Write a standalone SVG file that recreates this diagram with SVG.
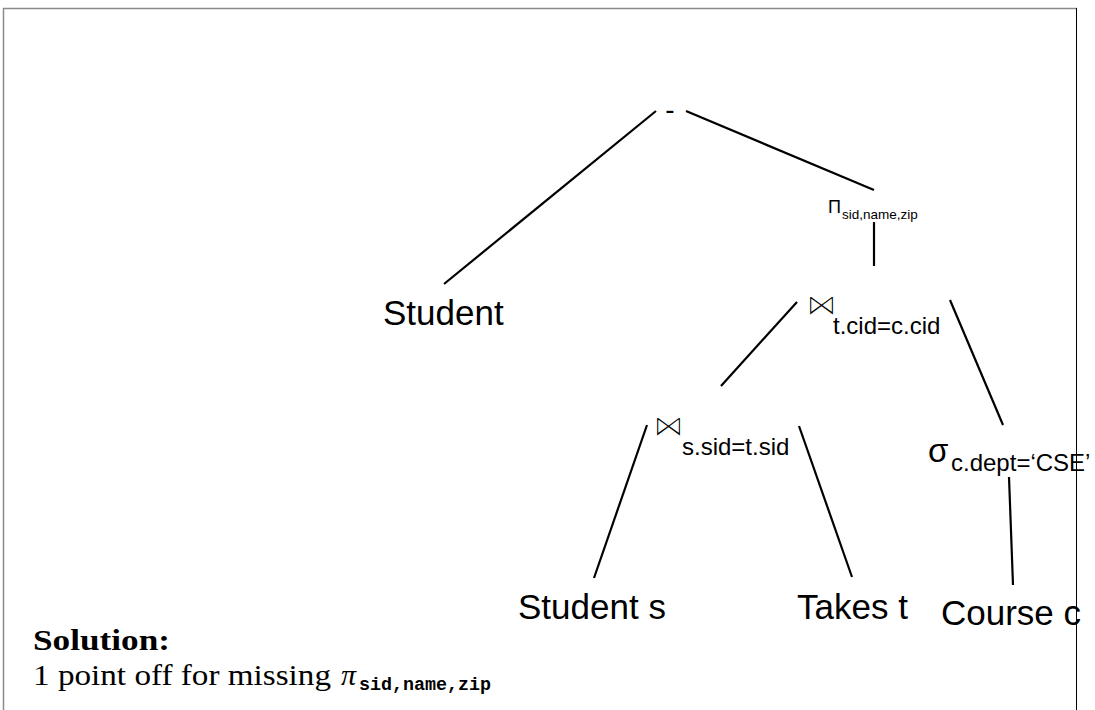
<svg xmlns="http://www.w3.org/2000/svg" width="1095" height="710" viewBox="0 0 1095 710">
  <style>
    .edge { stroke: #000; stroke-width: 2.2; fill: none; stroke-linecap: butt; }
    .lbl { font-family: "Liberation Sans", Arial, sans-serif; fill: #000; }
    .big { font-size: 35px; }
    .sub { font-size: 24px; }
    /* bowtie glyph, thinned with a white halo so it reads as a light outline */
    .join { font-family: "DejaVu Sans", sans-serif; font-size: 31px; fill: #000; stroke: #fff; stroke-width: 1.3; paint-order: fill stroke; }
    .tex { font-family: "Liberation Serif", "Times New Roman", serif; fill: #000; }
    .tt { font-family: "Liberation Mono", "Courier New", monospace; fill: #000; }
  </style>
  <rect width="1095" height="710" fill="#fff"/>

  <!-- page frame -->
  <g id="frame">
    <line x1="3" y1="8.5" x2="1077" y2="8.5" stroke="#8a8a8a" stroke-width="1.5"/>
    <line x1="3.5" y1="8" x2="3.5" y2="710" stroke="#8a8a8a" stroke-width="1.5"/>
    <line x1="1076.5" y1="8" x2="1076.5" y2="710" stroke="#000" stroke-width="1"/>
  </g>

  <!-- tree edges -->
  <g id="connectors">
    <line class="edge" x1="656" y1="111" x2="444" y2="284"/>
    <line class="edge" x1="686" y1="111" x2="874" y2="190"/>
    <line class="edge" x1="874" y1="222" x2="874" y2="266"/>
    <line class="edge" x1="797" y1="302" x2="721" y2="386"/>
    <line class="edge" x1="950" y1="300" x2="1003" y2="425"/>
    <line class="edge" x1="647" y1="425" x2="594" y2="578"/>
    <line class="edge" x1="799" y1="426" x2="852" y2="577"/>
    <line class="edge" x1="1009" y1="477" x2="1013" y2="585"/>
  </g>

  <g id="minus">
    <text class="lbl" x="670" y="119" font-size="28" text-anchor="middle">-</text>
  </g>

  <g id="student">
    <text class="lbl big" x="383" y="325">Student</text>
  </g>

  <g id="project">
    <text class="lbl" x="828" y="213" font-size="18">Π</text>
    <text class="lbl" x="842" y="219" font-size="13.5">sid,name,zip</text>
  </g>

  <g id="join-cid">
    <text class="join" x="806" y="315">⋈</text>
    <text class="lbl sub" x="833" y="334">t.cid=c.cid</text>
  </g>

  <g id="join-sid">
    <text class="join" x="653" y="436">⋈</text>
    <text class="lbl sub" x="682" y="455">s.sid=t.sid</text>
  </g>

  <g id="select">
    <text class="lbl" x="928" y="462" font-size="33">σ</text>
    <text class="lbl sub" x="951" y="471">c.dept=‘CSE’</text>
  </g>

  <g id="student-s">
    <text class="lbl big" x="518" y="619">Student s</text>
  </g>

  <g id="takes-t">
    <text class="lbl big" x="797" y="619">Takes t</text>
  </g>

  <g id="course-c">
    <text class="lbl big" x="941" y="625">Course c</text>
  </g>

  <!-- grading note -->
  <g id="note">
    <text class="tex" x="33" y="650" font-size="30" font-weight="bold" textLength="137" lengthAdjust="spacingAndGlyphs">Solution:</text>
    <text class="tex" x="33" y="685" font-size="30" textLength="298" lengthAdjust="spacingAndGlyphs">1 point off for missing</text>
    <text class="tex" x="341" y="685" font-size="30" font-style="italic">π</text>
    <text class="tt" x="359" y="690" font-size="19" font-weight="bold" textLength="132" lengthAdjust="spacingAndGlyphs">sid,name,zip</text>
  </g>
</svg>
